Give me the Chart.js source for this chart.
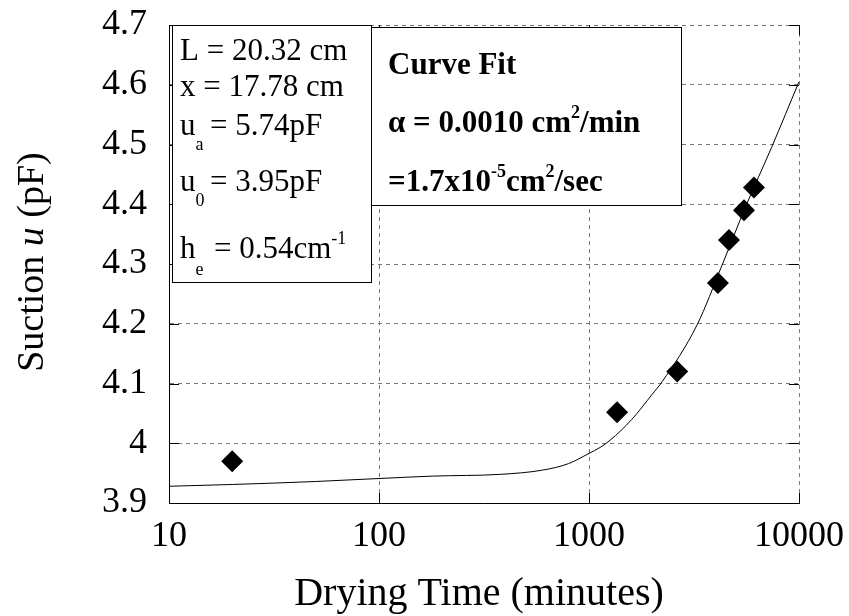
<!DOCTYPE html>
<html>
<head>
<meta charset="utf-8">
<script src="https://cdn.jsdelivr.net/npm/chart.js@4.4.1/dist/chart.umd.min.js"></script>
<style>
  body { margin: 0; background: #fff; }
  #wrap { width: 849px; height: 616px; }
</style>
</head>
<body>
<div id="wrap"><canvas id="chart" width="849" height="616"></canvas></div>
<script>
// Mesures (diamants)
const measuredTime = [20, 1360, 2630, 4110, 4640, 5470, 6100];
const measuredSuction = [3.97, 4.052, 4.12, 4.268, 4.34, 4.39, 4.428];

// Courbe ajustée
const fitTime = [10, 20, 50, 100, 180, 380, 600, 800, 1000, 1130, 1260, 1600, 2000, 2230, 3270, 4300, 5600, 7400, 10000];
const fitSuction = [3.928, 3.931, 3.936, 3.941, 3.945, 3.948, 3.955, 3.966, 3.983, 3.993, 4.005, 4.04, 4.082, 4.103, 4.198, 4.298, 4.398, 4.495, 4.605];

// Graduations
const xTicks = [10, 100, 1000, 10000];
const yTicks = [3.9, 4.0, 4.1, 4.2, 4.3, 4.4, 4.5, 4.6, 4.7];

const SERIF = '"Liberation Serif", "Times New Roman", serif';

// dessine une suite de morceaux de texte (indices, exposants)
function drawRuns(ctx, x, y, runs) {
    runs.forEach(r => {
        ctx.font = r.font;
        if (r.x !== undefined) x = r.x;
        ctx.fillText(r.t, x, y + (r.dy || 0));
        x += ctx.measureText(r.t).width;
    });
}

function runsWidth(ctx, runs) {
    return runs.reduce((w, r) => { ctx.font = r.font; return w + ctx.measureText(r.t).width; }, 0);
}

const decorPlugin = {
    id: 'decor',
    afterDraw(chart) {
        const { ctx, chartArea: a, scales: { x, y } } = chart;
        ctx.save();

        // petites graduations vers l'intérieur
        ctx.strokeStyle = '#000';
        ctx.lineWidth = 1;
        ctx.beginPath();
        yTicks.forEach(v => {
            const py = Math.round(y.getPixelForValue(v)) + 0.5;
            ctx.moveTo(a.left, py); ctx.lineTo(a.left + 10, py);
            ctx.moveTo(a.right - 10, py); ctx.lineTo(a.right, py);
        });
        xTicks.forEach(v => {
            const px = Math.round(x.getPixelForValue(v)) + 0.5;
            ctx.moveTo(px, a.bottom); ctx.lineTo(px, a.bottom - 10);
            ctx.moveTo(px, a.top); ctx.lineTo(px, a.top + 10);
        });
        ctx.stroke();

        // cadres
        ctx.fillStyle = '#fff';
        ctx.fillRect(172, 25, 199, 257);
        ctx.fillRect(371, 27, 310, 178);
        ctx.strokeRect(172.5, 25.5, 199, 257);
        ctx.strokeRect(371.5, 27.5, 310, 178);

        ctx.fillStyle = '#000';
        ctx.textBaseline = 'alphabetic';
        ctx.textAlign = 'left';
        const reg = '31px ' + SERIF;
        const sub = '18px ' + SERIF;
        drawRuns(ctx, 180, 60, [{ t: 'L = 20.32 cm', font: reg }]);
        drawRuns(ctx, 180, 96, [{ t: 'x = 17.78 cm', font: reg }]);
        drawRuns(ctx, 180, 135, [{ t: 'u', font: reg }, { t: 'a', font: sub, dy: 15 }, { t: '= 5.74pF', font: reg, x: 210 }]);
        drawRuns(ctx, 180, 191, [{ t: 'u', font: reg }, { t: '0', font: sub, dy: 15 }, { t: '= 3.95pF', font: reg, x: 210 }]);
        drawRuns(ctx, 180, 258, [{ t: 'h', font: reg }, { t: 'e', font: sub, dy: 17 }, { t: '= 0.54cm', font: reg, x: 214 }, { t: '-1', font: sub, dy: -14 }]);

        const bold = 'bold 31px ' + SERIF;
        const bsup = 'bold 18px ' + SERIF;
        drawRuns(ctx, 388, 74, [{ t: 'Curve Fit', font: bold }]);
        drawRuns(ctx, 388, 132, [{ t: 'α = 0.0010 cm', font: bold }, { t: '2', font: bsup, dy: -14 }, { t: '/min', font: bold }]);
        drawRuns(ctx, 388, 191, [{ t: '=1.7x10', font: bold }, { t: '-5', font: bsup, dy: -14 }, { t: 'cm', font: bold }, { t: '2', font: bsup, dy: -14 }, { t: '/sec', font: bold }]);

        // titre axe x
        ctx.font = '40px ' + SERIF;
        ctx.textAlign = 'center';
        ctx.fillText('Drying Time (minutes)', 479, 605);

        // titre axe y
        const yRuns = [
            { t: 'Suction ', font: '38px ' + SERIF },
            { t: 'u', font: 'italic 38px ' + SERIF },
            { t: ' (pF)', font: '38px ' + SERIF }
        ];
        ctx.textAlign = 'left';
        ctx.translate(43, 262);
        ctx.rotate(-Math.PI / 2);
        drawRuns(ctx, -runsWidth(ctx, yRuns) / 2, 0, yRuns);

        ctx.restore();
    }
};

const ctxChart = document.getElementById('chart').getContext('2d');
new Chart(ctxChart, {
    type: 'scatter',
    data: {
        datasets: [{
            label: 'Measured',
            data: measuredTime.map((t, i) => ({ x: t, y: measuredSuction[i] })),
            pointStyle: 'rectRot',
            pointRadius: 11,
            pointBackgroundColor: '#000',
            pointBorderWidth: 0,
            showLine: false
        }, {
            label: 'Curve Fit',
            data: fitTime.map((t, i) => ({ x: t, y: fitSuction[i] })),
            showLine: true,
            borderColor: '#000',
            borderWidth: 1,
            pointRadius: 0,
            cubicInterpolationMode: 'monotone'
        }]
    },
    options: {
        responsive: false,
        animation: false,
        devicePixelRatio: 1,
        layout: { padding: { top: 25, right: 50, left: 0, bottom: 0 } },
        plugins: {
            legend: { display: false },
            tooltip: { enabled: false }
        },
        scales: {
            x: {
                type: 'logarithmic',
                min: 10,
                max: 10000,
                afterBuildTicks: scale => { scale.ticks = xTicks.map(v => ({ value: v })); },
                afterFit: scale => {
                    scale.height = 113;
                    scale.paddingLeft = 0;
                    scale.paddingRight = 0;
                },
                ticks: {
                    autoSkip: false,
                    maxRotation: 0,
                    padding: 12,
                    color: '#000',
                    font: { family: SERIF, size: 36 },
                    callback: v => String(v)
                },
                grid: { color: '#777', drawTicks: false },
                border: { display: true, color: '#000', width: 1, dash: [4, 4] }
            },
            y: {
                min: 3.9,
                max: 4.7,
                afterBuildTicks: scale => { scale.ticks = yTicks.map(v => ({ value: v })); },
                afterFit: scale => {
                    scale.width = 169;
                    scale.paddingTop = 0;
                    scale.paddingBottom = 0;
                },
                ticks: {
                    padding: 22,
                    color: '#000',
                    font: { family: SERIF, size: 36 },
                    callback: v => String(+v.toFixed(1))
                },
                grid: { color: '#777', drawTicks: false },
                border: { display: true, color: '#000', width: 1, dash: [4, 4] }
            }
        }
    },
    plugins: [decorPlugin]
});
</script>
</body>
</html>
